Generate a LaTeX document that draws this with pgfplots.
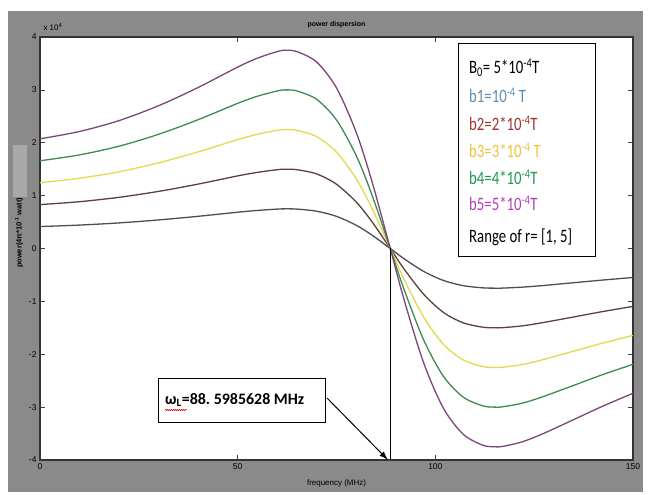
\documentclass[border=0pt]{standalone}
\usepackage{graphicx}
\usepackage{pgfplots}
\pgfplotsset{compat=1.18}
\usepackage{pgfplotstable}
\usetikzlibrary{arrows.meta,decorations.pathmorphing}
\usepackage{fontspec}
\setmainfont{Liberation Sans}
\newfontfamily\calfont{Carlito}

\definecolor{bg}{HTML}{8A8A8A}
\definecolor{bglight}{HTML}{A9A9A9}
\definecolor{cA}{HTML}{4D4D57}
\definecolor{cB}{HTML}{5E3F3F}
\definecolor{cC}{HTML}{E3DA4E}
\definecolor{cD}{HTML}{3E8A52}
\definecolor{cE}{HTML}{7B477B}
\definecolor{tB1}{HTML}{5B8DB8}
\definecolor{tB2}{HTML}{9E3430}
\definecolor{tB3}{HTML}{EBC43A}
\definecolor{tB4}{HTML}{1E9A55}
\definecolor{tB5}{HTML}{B23CBF}

% power (x 10^4) against frequency (MHz)
\pgfplotstableread{
f     b1     b2     b3     b4     b5
0     0.415  0.830  1.244  1.659  2.074
10    0.443  0.885  1.328  1.770  2.213
20    0.484  0.968  1.451  1.935  2.419
30    0.540  1.080  1.620  2.160  2.700
40    0.609  1.218  1.827  2.436  3.045
50    0.686  1.373  2.059  2.745  3.431
55    0.720  1.440  2.160  2.880  3.600
60    0.745  1.490  2.234  2.979  3.724
62    0.750  1.500  2.250  3.000  3.750
65    0.745  1.490  2.234  2.979  3.724
70    0.705  1.410  2.115  2.820  3.525
75    0.608  1.215  1.823  2.430  3.038
80    0.439  0.878  1.316  1.755  2.194
84    0.252  0.504  0.756  1.008  1.260
88.6  0      0      0      0      0
92   -0.189 -0.378 -0.567 -0.756 -0.945
97   -0.431 -0.861 -1.292 -1.722 -2.153
102  -0.603 -1.206 -1.809 -2.412 -3.015
107  -0.702 -1.404 -2.106 -2.808 -3.510
112  -0.744 -1.488 -2.232 -2.976 -3.720
115  -0.750 -1.500 -2.250 -3.000 -3.750
117  -0.749 -1.497 -2.246 -2.994 -3.743
122  -0.731 -1.463 -2.194 -2.925 -3.656
127  -0.702 -1.404 -2.106 -2.808 -3.510
135  -0.647 -1.295 -1.942 -2.589 -3.236
142  -0.599 -1.197 -1.796 -2.394 -2.993
150  -0.548 -1.095 -1.643 -2.190 -2.738
}\powtab

\begin{document}
\begin{tikzpicture}
\useasboundingbox (0,0) rectangle (649bp,495bp);
\fill[white] (0,0) rectangle (649bp,495bp);
\fill[bg] (8bp,3bp) rectangle (643bp,484bp);
\fill[bglight] (13bp,298bp) rectangle (27bp,350bp);

\begin{axis}[
    at={(40bp,35bp)}, anchor=south west,
    scale only axis,
    width=593bp, height=423bp,
    xmin=0, xmax=150,
    ymin=-4, ymax=4,
    xtick={0,50,100,150},
    ytick={-4,-3,...,4},
    tick align=inside,
    major tick length=5bp,
    axis background/.style={fill=white},
    axis line style={draw=black!80, line width=1.1bp},
    tick style={black!75, line width=0.6bp},
    ticklabel style={font=\fontsize{8.5}{9}\selectfont},
    /pgf/number format/assume math mode=true,
    title={\textbf{power dispersion}},
    title style={font=\fontsize{7}{8}\selectfont, at={(axis description cs:0.5,1)}, anchor=center, yshift=6bp},
    xlabel={frequency (MHz)},
    xlabel style={font=\fontsize{8}{9}\selectfont, at={(axis description cs:0.5,0)}, anchor=center, yshift=-23bp},
    ylabel={\textbf{power(4π*10\textsuperscript{-1} watt)}},
    ylabel style={font=\fontsize{7.5}{8}\selectfont, at={(axis description cs:0,0.537)}, anchor=center, yshift=21bp},
    every axis plot/.append style={line width=1.3bp, smooth},
]
\addplot[cA] table[x=f, y=b1] {\powtab};
\addplot[cB] table[x=f, y=b2] {\powtab};
\addplot[cC] table[x=f, y=b3] {\powtab};
\addplot[cD] table[x=f, y=b4] {\powtab};
\addplot[cE] table[x=f, y=b5] {\powtab};
\addplot[black, line width=0.9bp, sharp plot] coordinates {(88.6,0) (88.6,-4)};
\end{axis}

% multiplier of the y axis
\node[font=\fontsize{8}{9}\selectfont, anchor=west] at (40bp,468bp) {x 10\textsuperscript{4}};

% text box with the field values
\draw[black, line width=0.8bp, fill=white] (458bp,239bp) rectangle (595bp,452bp);
\begin{scope}[every node/.style={anchor=west, inner sep=0pt, font=\calfont\fontsize{19}{20}\selectfont}]
\node at (469bp,427bp) {\scalebox{0.78}[1]{B\textsubscript{0}= 5*10\textsuperscript{-4}T}};
\node[text=tB1] at (469bp,400bp) {\scalebox{0.78}[1]{b1=10\textsuperscript{-4} T}};
\node[text=tB2] at (469bp,372bp) {\scalebox{0.78}[1]{b2=2*10\textsuperscript{-4}T}};
\node[text=tB3] at (469bp,345bp) {\scalebox{0.78}[1]{b3=3*10\textsuperscript{-4} T}};
\node[text=tB4] at (469bp,318bp) {\scalebox{0.78}[1]{b4=4*10\textsuperscript{-4}T}};
\node[text=tB5] at (469bp,292bp) {\scalebox{0.78}[1]{b5=5*10\textsuperscript{-4}T}};
\node at (469bp,258bp) {\scalebox{0.78}[1]{Range of r= [1, 5]}};
\end{scope}

% annotation of the crossing frequency
\draw[black, line width=0.8bp, fill=white] (158bp,73bp) rectangle (325bp,117bp);
\node[anchor=west, inner sep=0pt, font=\calfont\bfseries\fontsize{16}{17}\selectfont] at (165bp,95bp) {ω\textsubscript{L}=88.\ 5985628 MHz};
\draw[red!80!black, line width=0.5bp, decorate, decoration={snake, amplitude=0.7bp, segment length=2bp}] (165bp,85bp) -- (187bp,85bp);
\draw[-{Latex[length=9bp,width=6bp]}, line width=1bp] (327bp,97bp) -- (388bp,35bp);
\end{tikzpicture}
\end{document}
